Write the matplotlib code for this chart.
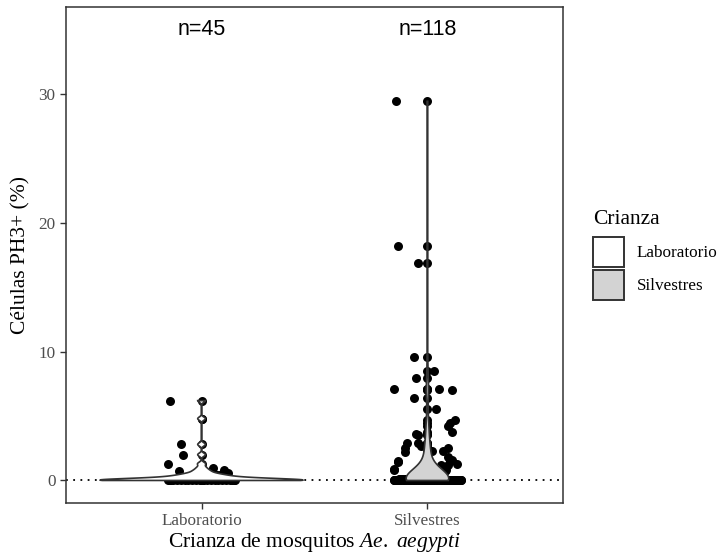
import matplotlib
matplotlib.use("Agg")
import matplotlib.pyplot as plt
import numpy as np
from matplotlib.patches import Patch

plt.rcParams["font.family"] = ["Liberation Serif", "DejaVu Serif"]
plt.rcParams["mathtext.fontset"] = "custom"
plt.rcParams["mathtext.rm"] = "Liberation Serif"
plt.rcParams["mathtext.it"] = "Liberation Serif:italic"

# ---- datos ----
grupos = ["Laboratorio", "Silvestres"]
n_etiquetas = ["n=45", "n=118"]

# Laboratorio (45): valores visibles + valores pequenos ocultos en la base
lab_visibles = [6.2, 4.8, 2.8, 2.0, 1.3, 1.0, 0.8, 0.7]
lab_jit_visibles = [-0.14, 0.0, -0.09, -0.08, -0.15, 0.05, 0.10, -0.10]
lab_pequenos = [0.05, 0.05, 0.1, 0.1, 0.1, 0.15, 0.15, 0.2, 0.2, 0.25,
                0.3, 0.3, 0.35, 0.4, 0.45, 0.5, 0.55]
lab_ceros = 20

# Silvestres (118)
sil_visibles = [29.45, 18.2, 16.9, 9.6, 8.5, 7.95, 7.1, 7.1, 7.0, 6.4, 5.55,
                4.7, 4.5, 4.2, 3.8, 3.6, 3.5, 2.9, 2.9, 2.5, 2.5, 2.3, 2.3,
                2.2, 2.7, 1.85, 1.6, 1.5, 1.5, 1.3, 1.2, 1.2, 1.4, 0.9, 0.85]
sil_jit_visibles = [-0.14, -0.13, -0.04, -0.06, 0.03, -0.05, -0.15, 0.05, 0.11,
                    -0.06, 0.04, 0.12, 0.10, 0.09, 0.11, -0.05, -0.04, -0.09,
                    -0.04, -0.10, 0.09, 0.07, 0.02, -0.10, -0.03, 0.09, 0.11,
                    0.10, -0.13, 0.13, 0.06, 0.09, -0.13, -0.15, -0.15]
sil_pequenos = [0.05, 0.05, 0.05, 0.1, 0.1, 0.1, 0.1, 0.15, 0.15, 0.15, 0.2,
                0.2, 0.2, 0.25, 0.25, 0.3, 0.3, 0.3, 0.35, 0.35, 0.4, 0.4,
                0.45, 0.45, 0.5, 0.5, 0.55, 0.6, 0.6, 0.65, 0.7, 0.75, 0.8]
sil_ceros = 118 - len(sil_visibles) - len(sil_pequenos)

ajuste_bw = [1.0, 2.0]          # como adjust= de geom_violin
rellenos = ["white", "#D3D3D3"]
Y_N = 35.0


def armar(visibles, jit_vis, pequenos, ceros):
    vals = np.array(list(visibles) + list(pequenos) + [0.0] * ceros)
    n_base = len(pequenos) + ceros
    jit_base = np.linspace(-0.15, 0.15, n_base)
    jit_base = np.concatenate([jit_base[0::2], jit_base[1::2]])
    jit = np.concatenate([np.array(jit_vis), jit_base])
    return vals, jit


def bw_nrd0(x):
    hi = np.std(x, ddof=1)
    q75, q25 = np.percentile(x, [75, 25])
    lo = min(hi, (q75 - q25) / 1.34)
    if not lo:
        lo = hi
    return 0.9 * lo * len(x) ** -0.2


def kde(x, adj):
    bw = bw_nrd0(x) * adj
    yy = np.linspace(x.min(), x.max(), 512)
    d = np.exp(-0.5 * ((yy[:, None] - x[None, :]) / bw) ** 2).sum(1)
    d /= len(x) * bw * np.sqrt(2 * np.pi)
    return yy, d


datos = [armar(lab_visibles, lab_jit_visibles, lab_pequenos, lab_ceros),
         armar(sil_visibles, sil_jit_visibles, sil_pequenos, sil_ceros)]
dens = [kde(v, a) for (v, _), a in zip(datos, ajuste_bw)]
dmax = max(d.max() for _, d in dens)

fig = plt.figure(figsize=(7.18, 5.55), dpi=100)
ax = fig.add_axes([66 / 718, 52 / 555, 497 / 718, 495.7 / 555])

ax.axhline(0, color="black", ls=(0, (1, 3)), lw=1.3, zorder=1)

for i, ((vals, jit), (yy, d)) in enumerate(zip(datos, dens)):
    xc = i + 1
    ax.scatter(np.full(len(vals), xc), vals, s=42, color="black", lw=0, zorder=2)
    ax.scatter(xc + jit, vals, s=42, color="black", lw=0, zorder=2)
    w = d / dmax * 0.45
    xs = np.concatenate([xc - w, (xc + w)[::-1]])
    ys = np.concatenate([yy, yy[::-1]])
    ax.fill(xs, ys, facecolor=rellenos[i], edgecolor="#333333", lw=1.2, zorder=3)
    ax.text(xc, Y_N, n_etiquetas[i], ha="center", va="center", fontsize=15.5,
            family="Liberation Sans", color="black")

ax.set_xlim(0.4, 2.6)
ax.set_ylim(-1.75, 36.75)
ax.set_xticks([1, 2])
ax.set_xticklabels(grupos)
ax.set_yticks([0, 10, 20, 30])
ax.tick_params(colors="#333333", labelcolor="#4D4D4D", labelsize=12.3,
               length=4, width=1)
for s in ax.spines.values():
    s.set_color("#333333")
    s.set_linewidth(1.1)

ax.set_xlabel(r"Crianza de mosquitos $\mathit{Ae.\ aegypti}$", fontsize=15.5,
              labelpad=1)
ax.set_ylabel("Células PH3+ (%)", fontsize=15.5, labelpad=6)

manejadores = [Patch(facecolor=c, edgecolor="#333333", lw=1.4) for c in rellenos]
leg = fig.legend(manejadores, grupos, title="Crianza", loc="upper left",
                 bbox_to_anchor=(586 / 718, 1 - 203 / 555), frameon=False,
                 fontsize=12.3, title_fontsize=15.5, handlelength=1.85,
                 handleheight=2.3, labelspacing=0.2, handletextpad=0.7,
                 borderaxespad=0)
leg._legend_box.align = "left"
leg._legend_box.sep = 6

fig.savefig("out.png", dpi=100)
